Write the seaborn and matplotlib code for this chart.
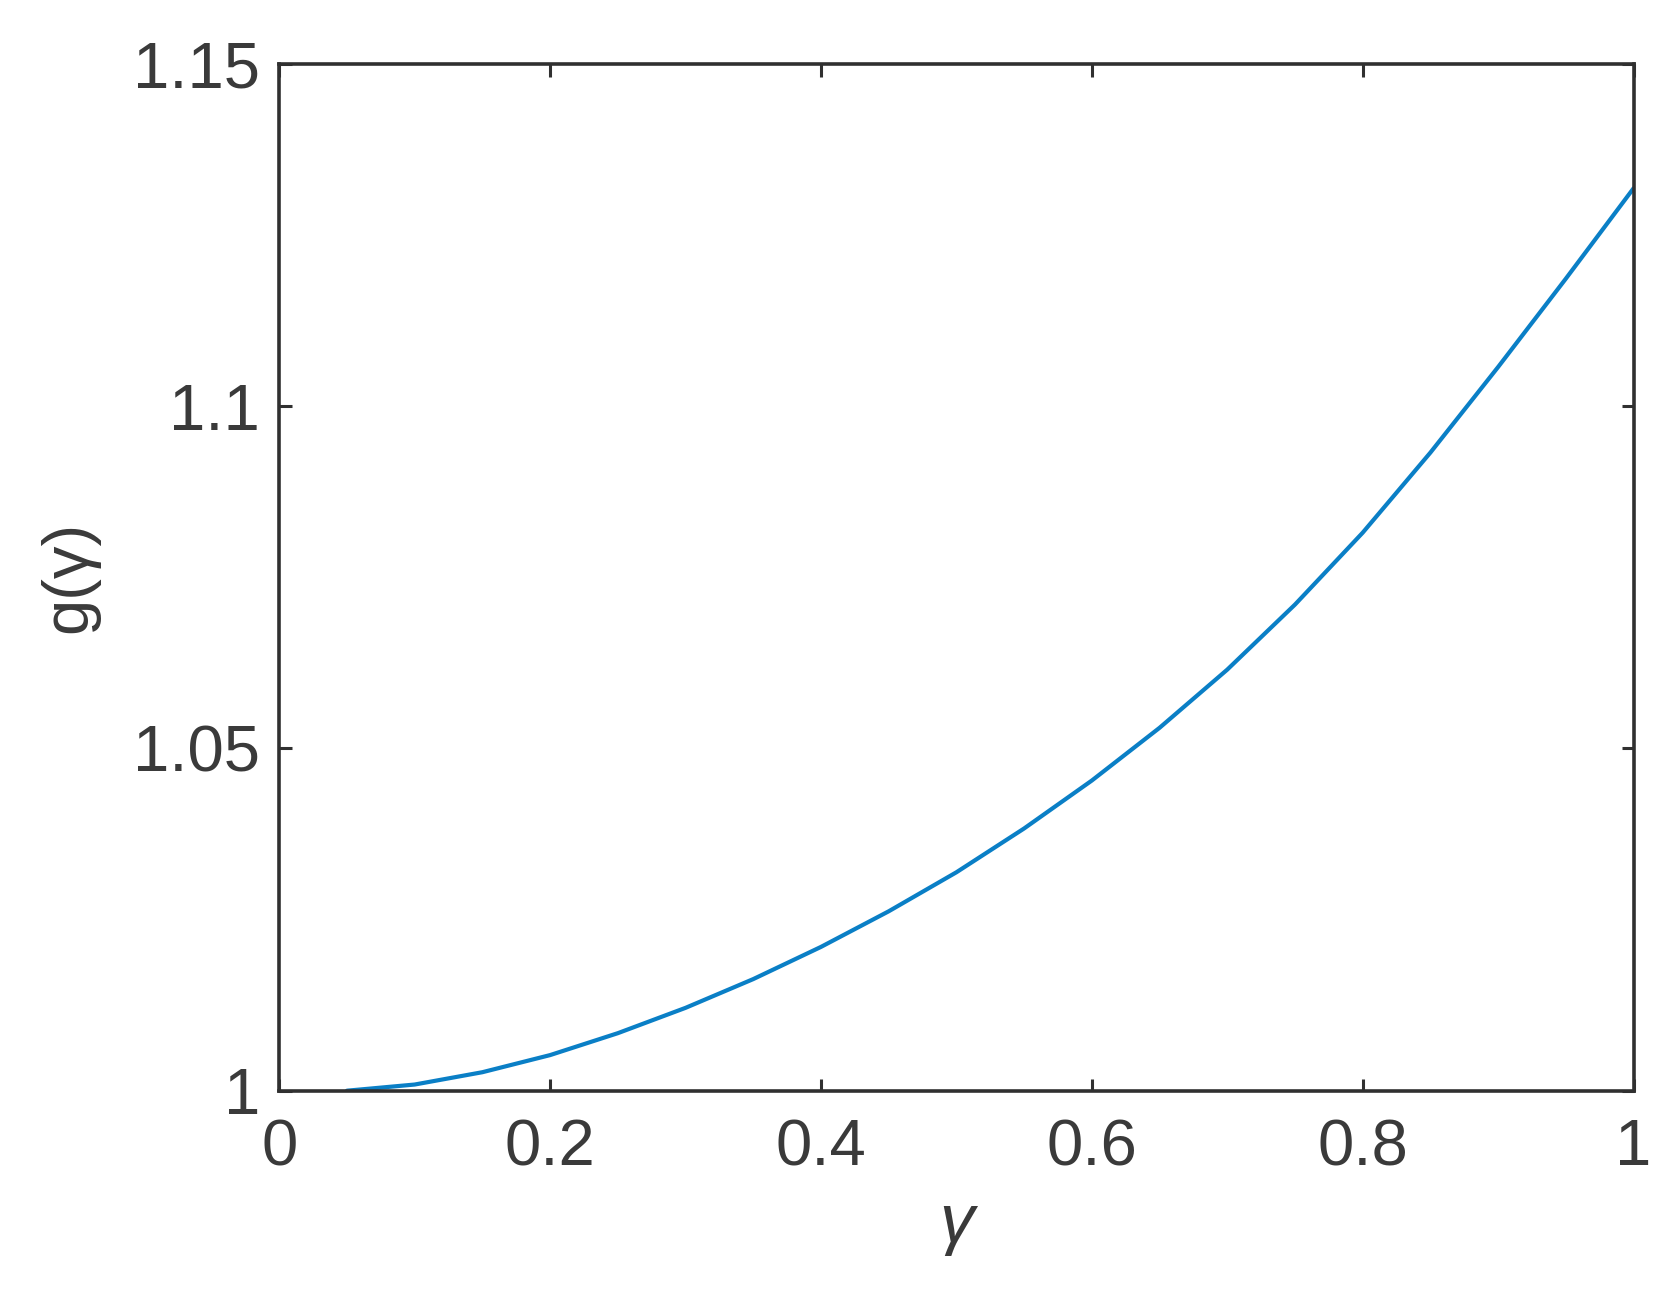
import numpy as np
import pandas as pd
import matplotlib
matplotlib.use("Agg")
import matplotlib.pyplot as plt
import seaborn as sns

# valores
gamma = [0.05, 0.10, 0.15, 0.20, 0.25, 0.30, 0.35, 0.40, 0.45, 0.50,
         0.55, 0.60, 0.65, 0.70, 0.75, 0.80, 0.85, 0.90, 0.95, 1.00]
g_gamma = [1.0000, 1.0009, 1.0027, 1.0052, 1.0084, 1.0121, 1.0163, 1.0210, 1.0262, 1.0319,
           1.0383, 1.0453, 1.0530, 1.0615, 1.0710, 1.0815, 1.0932, 1.1057, 1.1186, 1.1318]
x_ticks = [0, 0.2, 0.4, 0.6, 0.8, 1]
x_labels = ['0', '0.2', '0.4', '0.6', '0.8', '1']
y_ticks = [1, 1.05, 1.1, 1.15]
y_labels = ['1', '1.05', '1.1', '1.15']

df = pd.DataFrame({'gamma': gamma, 'g': g_gamma})

sns.set_style("ticks")
plt.rcParams['font.family'] = ['Liberation Sans', 'DejaVu Sans']

fig = plt.figure(figsize=(16.72, 13.0), dpi=100)
ax = fig.add_axes([0.167, 0.161, 0.810, 0.790])

sns.lineplot(data=df, x='gamma', y='g', color='#0A7FC6', linewidth=3.0, ax=ax)

ax.set_xlim(0, 1)
ax.set_ylim(1, 1.15)
ax.set_xticks(x_ticks)
ax.set_xticklabels(x_labels)
ax.set_yticks(y_ticks)
ax.set_yticklabels(y_labels)

for s in ax.spines.values():
    s.set_visible(True)
    s.set_linewidth(2.6)
    s.set_color('#303030')
ax.tick_params(direction='in', length=9, width=2.2, colors='#303030',
               labelcolor='#3a3a3a', labelsize=47, top=True, right=True)
ax.tick_params(axis='x', pad=20)
ax.tick_params(axis='y', pad=14)

ax.set_xlabel('γ', fontsize=50, color='#3a3a3a', style='italic', labelpad=10)
ax.set_ylabel('g(γ)', fontsize=47, color='#3a3a3a', labelpad=24)

fig.savefig('out.png', dpi=100, facecolor='white')
